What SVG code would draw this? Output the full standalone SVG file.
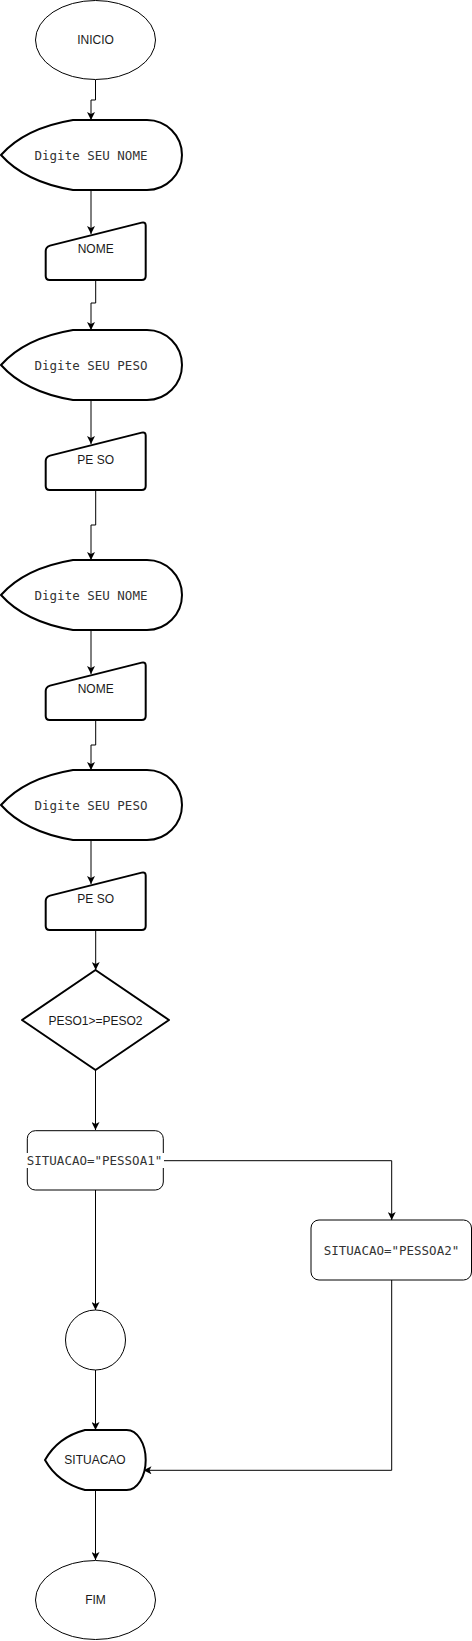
<svg xmlns="http://www.w3.org/2000/svg" width="472" height="1641" viewBox="0 0 472 1641">
<defs>
<marker id="arr" markerUnits="userSpaceOnUse" markerWidth="8" markerHeight="8" viewBox="0 0 8 8" refX="8" refY="4" orient="auto">
<path d="M0,0 L8,4 L0,8 L2,4 Z" fill="#000"/>
</marker>
</defs>
<style>
.thin{fill:#fff;stroke:#000;stroke-width:1}
.thick{fill:#fff;stroke:#000;stroke-width:2;stroke-linejoin:round}
.sans{font-family:"Liberation Sans",Arial,sans-serif;font-size:12px;fill:#1a1a1a;text-anchor:middle}
.mono{font-family:"DejaVu Sans Mono","Liberation Mono",monospace;font-size:12.5px;fill:#333;text-anchor:middle}
.edge{fill:none;stroke:#000;stroke-width:1;marker-end:url(#arr)}
</style>
<rect x="0" y="0" width="472" height="1641" fill="#fff"/>
<g id="connectors">
<path class="edge" d="M95.5,80 V100 H91 V120"/>
<path class="edge" d="M91,190 V234"/>
<path class="edge" d="M95.7,280 V303 H91 V330"/>
<path class="edge" d="M91,400 V444"/>
<path class="edge" d="M95.7,490 V525 H91 V560"/>
<path class="edge" d="M91,630 V674"/>
<path class="edge" d="M95.7,720 V745 H91 V770"/>
<path class="edge" d="M91,840 V884"/>
<path class="edge" d="M95.7,930 V970"/>
<path class="edge" d="M95.5,1070 V1130"/>
<path class="edge" d="M163.3,1160.7 H391.7 V1220"/>
<path class="edge" d="M95.5,1190 V1310"/>
<path class="edge" d="M95.5,1370 V1430"/>
<path class="edge" d="M391.7,1280 V1470.3 H143.5"/>
<path class="edge" d="M95.5,1490 V1560"/>
</g>
<g id="inicio">
<ellipse class="thin" cx="95.5" cy="40" rx="60" ry="39.5"/>
<text class="sans" x="95.5" y="44">INICIO</text>
</g>
<g id="display1">
<path class="thick" d="M1,155 Q25,128 73,120 H147 A35,35 0 0 1 147,190 H73 Q25,182 1,155 Z"/>
<text class="mono" x="91" y="159.5">Digite SEU NOME</text>
</g>
<g id="nome1">
<path class="thick" d="M50,245.6 L141.7,222.6 Q145.7,221.6 145.7,225.6 V276 Q145.7,280 141.7,280 H49.7 Q45.7,280 45.7,276 V251 Q45.7,247 50,245.6 Z"/>
<text class="sans" x="95.7" y="253">NOME</text>
</g>
<g id="display2">
<path class="thick" d="M1,365 Q25,338 73,330 H147 A35,35 0 0 1 147,400 H73 Q25,392 1,365 Z"/>
<text class="mono" x="91" y="369.5">Digite SEU PESO</text>
</g>
<g id="peso1">
<path class="thick" d="M50,455.6 L141.7,432.6 Q145.7,431.6 145.7,435.6 V486 Q145.7,490 141.7,490 H49.7 Q45.7,490 45.7,486 V461 Q45.7,457 50,455.6 Z"/>
<text class="sans" x="95.7" y="464">PE SO</text>
</g>
<g id="display3">
<path class="thick" d="M1,595 Q25,568 73,560 H147 A35,35 0 0 1 147,630 H73 Q25,622 1,595 Z"/>
<text class="mono" x="91" y="599.5">Digite SEU NOME</text>
</g>
<g id="nome2">
<path class="thick" d="M50,685.6 L141.7,662.6 Q145.7,661.6 145.7,665.6 V716 Q145.7,720 141.7,720 H49.7 Q45.7,720 45.7,716 V691 Q45.7,687 50,685.6 Z"/>
<text class="sans" x="95.7" y="693">NOME</text>
</g>
<g id="display4">
<path class="thick" d="M1,805 Q25,778 73,770 H147 A35,35 0 0 1 147,840 H73 Q25,832 1,805 Z"/>
<text class="mono" x="91" y="809.5">Digite SEU PESO</text>
</g>
<g id="peso2">
<path class="thick" d="M50,895.6 L141.7,872.6 Q145.7,871.6 145.7,875.6 V926 Q145.7,930 141.7,930 H49.7 Q45.7,930 45.7,926 V901 Q45.7,897 50,895.6 Z"/>
<text class="sans" x="95.7" y="903">PE SO</text>
</g>
<g id="decisao">
<path class="thick" d="M95.5,970 L169,1020 L95.5,1070 L22,1020 Z"/>
<text class="sans" x="95.5" y="1024.5">PESO1&gt;=PESO2</text>
</g>
<g id="situacao1">
<rect class="thin" x="27.3" y="1130.7" width="136" height="59.3" rx="8" ry="8"/>
<rect x="25" y="1153" width="139" height="15" fill="#fff"/>
<text class="mono" x="94.5" y="1165">SITUACAO="PESSOA1"</text>
</g>
<g id="situacao2">
<rect class="thin" x="311" y="1220" width="160.5" height="60" rx="8" ry="8"/>
<text class="mono" x="391.5" y="1255">SITUACAO="PESSOA2"</text>
</g>
<g id="conector">
<circle class="thin" cx="95.5" cy="1340" r="30"/>
</g>
<g id="display5">
<path class="thick" d="M45,1460 Q58,1437 85,1430 H126.7 A19,30 0 0 1 126.7,1490 H85 Q58,1483 45,1460 Z"/>
<text class="sans" x="95" y="1464">SITUACAO</text>
</g>
<g id="fim">
<ellipse class="thin" cx="95.5" cy="1600" rx="60" ry="39.5"/>
<text class="sans" x="95.5" y="1604">FIM</text>
</g>
</svg>
